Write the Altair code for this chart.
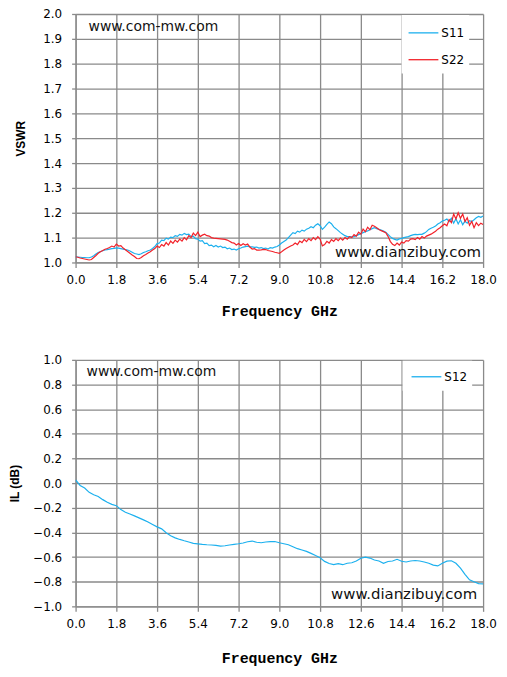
import altair as alt
import pandas as pd

# ---------------- data ----------------
freq_fine = [round(i * 0.1, 1) for i in range(181)]     # 0.0 .. 18.0 GHz
freq_coarse = [round(i * 0.2, 1) for i in range(91)]    # 0.0 .. 18.0 GHz

x_ticks = [0.0, 1.8, 3.6, 5.4, 7.2, 9.0, 10.8, 12.6, 14.4, 16.2, 18.0]
vswr_ticks = [1.0, 1.1, 1.2, 1.3, 1.4, 1.5, 1.6, 1.7, 1.8, 1.9, 2.0]
il_ticks = [-1.0, -0.8, -0.6, -0.4, -0.2, 0.0, 0.2, 0.4, 0.6, 0.8, 1.0]

series_top = ["S11", "S22"]
series_bottom = ["S12"]

s11 = [
    1.023, 1.022, 1.021, 1.020, 1.020, 1.019, 1.019, 1.022, 1.027, 1.034,
    1.040, 1.044, 1.047, 1.050, 1.052, 1.054, 1.056, 1.057, 1.059, 1.058,
    1.056, 1.054, 1.052, 1.050, 1.046, 1.041, 1.036, 1.034, 1.032, 1.035,
    1.040, 1.043, 1.047, 1.050, 1.056, 1.064, 1.076, 1.078, 1.090, 1.088,
    1.098, 1.094, 1.102, 1.100, 1.108, 1.105, 1.113, 1.110, 1.117, 1.112,
    1.114, 1.104, 1.106, 1.096, 1.094, 1.086, 1.088, 1.076, 1.078, 1.068,
    1.070, 1.063, 1.068, 1.062, 1.066, 1.060, 1.062, 1.055, 1.058, 1.052,
    1.054, 1.050, 1.055, 1.058, 1.062, 1.064, 1.066, 1.063, 1.063, 1.061,
    1.062, 1.058, 1.060, 1.056, 1.058, 1.054, 1.060, 1.058, 1.062, 1.064,
    1.070, 1.078, 1.084, 1.090, 1.100, 1.110, 1.120, 1.116, 1.126, 1.122,
    1.130, 1.126, 1.134, 1.138, 1.144, 1.140, 1.150, 1.156, 1.148, 1.133,
    1.142, 1.153, 1.163, 1.156, 1.143, 1.136, 1.128, 1.120, 1.114, 1.108,
    1.104, 1.104, 1.103, 1.104, 1.108, 1.112, 1.116, 1.120, 1.124, 1.127,
    1.132, 1.136, 1.140, 1.136, 1.133, 1.130, 1.126, 1.122, 1.113, 1.104,
    1.097, 1.093, 1.090, 1.095, 1.097, 1.100, 1.102, 1.104, 1.108, 1.111,
    1.113, 1.112, 1.113, 1.113, 1.118, 1.124, 1.133, 1.138, 1.142, 1.147,
    1.155, 1.160, 1.167, 1.170, 1.175, 1.165, 1.178, 1.158, 1.176, 1.155,
    1.172, 1.152, 1.166, 1.158, 1.168, 1.165, 1.172, 1.180, 1.185, 1.182,
    1.187,
]

s22 = [
    1.023, 1.021, 1.018, 1.016, 1.014, 1.012, 1.010, 1.012, 1.020, 1.028,
    1.037, 1.043, 1.048, 1.053, 1.056, 1.060, 1.066, 1.062, 1.074, 1.066,
    1.068, 1.058, 1.051, 1.044, 1.037, 1.030, 1.024, 1.016, 1.015, 1.020,
    1.027, 1.032, 1.038, 1.043, 1.050, 1.056, 1.066, 1.060, 1.072, 1.066,
    1.080, 1.070, 1.086, 1.077, 1.090, 1.082, 1.094, 1.086, 1.100, 1.091,
    1.108, 1.100, 1.118, 1.108, 1.122, 1.104, 1.110, 1.114, 1.108, 1.106,
    1.100, 1.098, 1.097, 1.096, 1.095, 1.094, 1.093, 1.090, 1.085, 1.080,
    1.078, 1.070, 1.076, 1.068, 1.075, 1.070, 1.074, 1.062, 1.054, 1.056,
    1.050, 1.050, 1.051, 1.053, 1.052, 1.048, 1.046, 1.044, 1.041, 1.039,
    1.037, 1.043, 1.050, 1.056, 1.061, 1.066, 1.070, 1.078, 1.072, 1.086,
    1.080, 1.093, 1.084, 1.096, 1.088, 1.100, 1.092, 1.104, 1.094, 1.067,
    1.072, 1.085, 1.078, 1.092, 1.085, 1.096, 1.088, 1.098, 1.090, 1.100,
    1.094, 1.104, 1.100, 1.112, 1.106, 1.122, 1.114, 1.134, 1.124, 1.142,
    1.132, 1.150, 1.146, 1.140, 1.133, 1.128, 1.124, 1.120, 1.105, 1.085,
    1.073, 1.068, 1.078, 1.070, 1.082, 1.078, 1.088, 1.086, 1.094, 1.096,
    1.092, 1.100, 1.094, 1.104, 1.098, 1.106, 1.110, 1.114, 1.120, 1.126,
    1.134, 1.140, 1.148, 1.155, 1.148, 1.172, 1.160, 1.195, 1.175, 1.200,
    1.178, 1.195, 1.165, 1.180, 1.150, 1.165, 1.140, 1.160, 1.148, 1.158,
    1.153,
]

s12 = [
    0.027, -0.019, -0.040, -0.075, -0.094, -0.108, -0.134, -0.156, -0.172, -0.183,
    -0.215, -0.237, -0.251, -0.266, -0.282, -0.298, -0.316, -0.336, -0.355, -0.371,
    -0.403, -0.427, -0.444, -0.457, -0.468, -0.478, -0.489, -0.493, -0.497, -0.500,
    -0.502, -0.505, -0.511, -0.508, -0.502, -0.497, -0.492, -0.486, -0.476, -0.470,
    -0.480, -0.484, -0.478, -0.474, -0.474, -0.484, -0.492, -0.500, -0.516, -0.532,
    -0.543, -0.554, -0.570, -0.588, -0.605, -0.635, -0.652, -0.661, -0.654, -0.662,
    -0.650, -0.646, -0.632, -0.610, -0.600, -0.608, -0.624, -0.632, -0.650, -0.636,
    -0.632, -0.618, -0.634, -0.640, -0.632, -0.628, -0.632, -0.640, -0.650, -0.665,
    -0.672, -0.650, -0.633, -0.630, -0.650, -0.690, -0.740, -0.785, -0.800, -0.815,
    -0.818,
]

wm_top = "www.com-mw.com"
wm_bottom = "www.dianzibuy.com"

# ---------------- style ----------------
BLUE = "#1CB0EE"
RED = "#F2222A"
GRID = "#8a8a8a"
TICK_FONT = "DejaVu Sans"
W, H1, H2 = 410, 250, 248

top_df = pd.DataFrame({
    "freq": freq_fine * 2,
    "vswr": s11 + s22,
    "series": [series_top[0]] * len(s11) + [series_top[1]] * len(s22),
})
bot_df = pd.DataFrame({
    "freq": freq_coarse,
    "il": s12,
    "series": series_bottom * len(s12),
})


def x_axis(title_pad):
    return alt.Axis(
        values=x_ticks, format=".1f", title="Frequency GHz",
        grid=True, gridColor=GRID, gridWidth=1.3,
        domainColor=GRID, domainWidth=1.3, tickColor=GRID, tickWidth=1.3,
        tickSize=5, labelPadding=7, labelFont=TICK_FONT, labelFontSize=12,
        labelColor="black", labelFlush=False,
        titleFont="Liberation Mono", titleFontSize=15, titleFontWeight="bold",
        titleColor="black", titlePadding=title_pad,
    )


def y_axis(values, title, title_pad):
    return alt.Axis(
        values=values, format=".1f", title=title,
        grid=True, gridColor=GRID, gridWidth=1.3,
        domainColor=GRID, domainWidth=1.3, tickColor=GRID, tickWidth=1.3,
        tickSize=4, labelPadding=10, labelFont=TICK_FONT, labelFontSize=12,
        labelColor="black",
        titleFont="Liberation Sans", titleFontSize=12, titleFontWeight="bold",
        titleColor="black", titlePadding=title_pad,
    )


def text_layer(txt, x, y, size):
    return alt.Chart(pd.DataFrame({"t": [txt]})).mark_text(
        align="left", baseline="middle", font=TICK_FONT, fontSize=size, color="#111111"
    ).encode(x=alt.value(x), y=alt.value(y), text="t:N")


def legend_layers(box, entries):
    x0, x1, y0, y1 = box
    layers = [
        alt.Chart(pd.DataFrame({"a": [0]})).mark_rect(color="white").encode(
            x=alt.value(x0), x2=alt.value(x1), y=alt.value(y0), y2=alt.value(y1)
        )
    ]
    for name, color, lx0, lx1, ly in entries:
        layers.append(
            alt.Chart(pd.DataFrame({"a": [0]})).mark_rule(color=color, strokeWidth=1.3).encode(
                x=alt.value(lx0), x2=alt.value(lx1), y=alt.value(ly)
            )
        )
        layers.append(
            alt.Chart(pd.DataFrame({"t": [name]})).mark_text(
                align="left", baseline="middle", font=TICK_FONT, fontSize=12, color="black"
            ).encode(x=alt.value(lx1 + 3), y=alt.value(ly), text="t:N")
        )
    return layers


top_lines = alt.Chart(top_df).mark_line(strokeWidth=1.2, clip=True).encode(
    x=alt.X("freq:Q", scale=alt.Scale(domain=[0, 18], nice=False), axis=x_axis(18)),
    y=alt.Y("vswr:Q", scale=alt.Scale(domain=[1, 2], nice=False, zero=False),
            axis=y_axis(vswr_ticks, "VSWR", 15)),
    color=alt.Color("series:N", scale=alt.Scale(domain=series_top, range=[BLUE, RED]), legend=None),
    order=alt.Order("freq:Q"),
)

top = alt.layer(
    top_lines,
    text_layer(wm_top, 13, 13, 14),
    text_layer(wm_bottom, 261, 239, 15),
    *legend_layers((328, 396, 1, 60),
                   [(series_top[0], BLUE, 335, 365, 19), (series_top[1], RED, 335, 365, 46)]),
).properties(width=W, height=H1)

bot_lines = alt.Chart(bot_df).mark_line(strokeWidth=1.2, clip=True, color=BLUE).encode(
    x=alt.X("freq:Q", scale=alt.Scale(domain=[0, 18], nice=False), axis=x_axis(21)),
    y=alt.Y("il:Q", scale=alt.Scale(domain=[-1, 1], nice=False, zero=False),
            axis=y_axis(il_ticks, "IL (dB)", 11)),
    order=alt.Order("freq:Q"),
)

bottom = alt.layer(
    bot_lines,
    text_layer(wm_top, 11, 12, 14),
    text_layer(wm_bottom, 257, 236, 15),
    *legend_layers((329, 399, 1, 31), [(series_bottom[0], BLUE, 338, 368, 17)]),
).properties(width=W, height=H2)

chart = alt.vconcat(top, bottom, spacing=36).resolve_scale(
    color="independent", x="independent", y="independent"
).configure(
    padding={"left": 0, "top": -2, "right": 2, "bottom": 2},
    background="white",
).configure_view(stroke=None)

chart.save("out.html", embed_options={"renderer": "svg", "actions": False})
